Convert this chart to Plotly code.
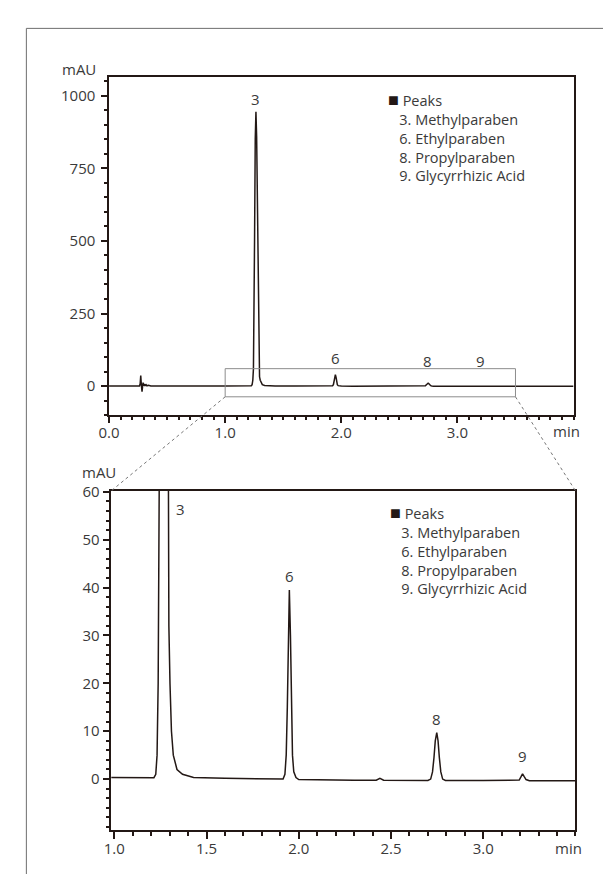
import plotly.graph_objects as go

W, H = 611, 874

# ---- data ----
time_min = [0.00, 0.25, 0.262, 0.268, 0.273, 0.278, 0.284, 0.289, 0.293, 0.298, 0.303, 0.31, 0.318,
            0.326, 0.34, 0.36, 0.40, 0.60, 1.00, 1.10, 1.20, 1.215, 1.225, 1.232, 1.238, 1.2435,
            1.248, 1.253, 1.259, 1.265, 1.271, 1.278, 1.284, 1.289, 1.293, 1.296, 1.302, 1.31,
            1.32, 1.34, 1.37, 1.43, 1.60, 1.80, 1.90, 1.915, 1.925, 1.932, 1.938, 1.943, 1.949,
            1.955, 1.96, 1.966, 1.973, 1.985, 2.00, 2.10, 2.30, 2.42, 2.44, 2.46, 2.70, 2.715,
            2.725, 2.733, 2.74, 2.748, 2.755, 2.762, 2.77, 2.78, 2.795, 3.00, 3.18, 3.195, 3.205,
            3.213, 3.222, 3.232, 3.25, 3.50, 4.00]
signal_mau = [0, 0, 0.5, 8, 36, 4, -19, 0, 12, 1, 7, 2, 5,
              1, 3, 0.5, 0.3, 0.35, 0.35, 0.3, 0.2, 0.3, 1, 5, 20, 60,
              200, 500, 850, 945, 860, 560, 280, 120, 60, 32, 20, 10,
              5, 2, 1, 0.35, 0.15, 0.05, -0.1, 0, 1, 5, 15, 30, 39.5,
              30, 15, 5, 1.5, 0.3, -0.1, -0.2, -0.25, -0.25, 0.15, -0.25, -0.3, 0,
              1.5, 4.5, 8, 9.7, 8, 4.5, 1.5, 0, -0.3, -0.3, -0.35, -0.2, 0.5,
              1.1, 0.5, -0.1, -0.35, -0.35, -0.35]

peak_ids = ["3", "6", "8", "9"]
peak_names = ["Methylparaben", "Ethylparaben", "Propylparaben", "Glycyrrhizic Acid"]
top_label_x = [1.265, 1.95, 2.74, 3.20]
top_label_y = [990, 96, 88, 88]
bot_label_x = [1.36, 1.949, 2.745, 3.213]
bot_label_y = [56.3, 42.5, 12.6, 4.8]

top_xticks = [0.0, 1.0, 2.0, 3.0]
top_yticks = [0, 250, 500, 750, 1000]
bot_xticks = [1.0, 1.5, 2.0, 2.5, 3.0]
bot_yticks = [0, 10, 20, 30, 40, 50, 60]

zoom_box_x = [1.0, 3.5]
zoom_box_y = [-37, 60]

top_xrange = [0.0, 4.0]
top_yrange = [-100, 1066]
bot_xrange = [0.984, 3.5]
bot_yrange = [-10.7, 60.2]

# ---- layout helpers (pixel -> paper) ----
def px(x):
    return x / W

def py(y):
    return (H - y) / H

top_dom_x = [px(91.7), px(564.7)]
top_dom_y = [py(401.7), py(59.3)]
bot_dom_x = [px(94.0), px(566.7)]
bot_dom_y = [py(821.7), py(478.3)]

INK = "#231815"
TXT = "#3a3a3a"
FONT = "Open Sans"

fig = go.Figure()
fig.add_trace(go.Scatter(x=time_min, y=signal_mau, mode="lines",
                         line=dict(color=INK, width=1.5), xaxis="x", yaxis="y",
                         hoverinfo="skip", showlegend=False))
fig.add_trace(go.Scatter(x=time_min, y=signal_mau, mode="lines",
                         line=dict(color=INK, width=1.5), xaxis="x2", yaxis="y2",
                         hoverinfo="skip", showlegend=False))

axis_common = dict(showgrid=False, zeroline=False, showline=True, linecolor=INK, linewidth=1.5,
                   mirror=True, ticks="outside", tickcolor=INK, tickwidth=1.5,
                   tickfont=dict(family=FONT, size=15, color=TXT))

fig.update_layout(
    width=W, height=H, margin=dict(l=0, r=0, t=0, b=0),
    paper_bgcolor="white", plot_bgcolor="white",
    font=dict(family=FONT, size=15, color=TXT),
    xaxis=dict(domain=top_dom_x, anchor="y", range=top_xrange, tickmode="array",
               tickvals=top_xticks, ticktext=[f"{v:.1f}" for v in top_xticks], ticklen=6,
               ticklabelstandoff=-3,
               minor=dict(dtick=0.1, tick0=0, ticklen=3, tickcolor=INK, tickwidth=1.5, ticks="outside"),
               **axis_common),
    yaxis=dict(domain=top_dom_y, anchor="x", range=top_yrange, tickmode="array",
               tickvals=top_yticks, ticklen=6, ticklabelstandoff=3,
               minor=dict(dtick=50, tick0=0, ticklen=3, tickcolor=INK, tickwidth=1.5, ticks="outside"),
               **axis_common),
    xaxis2=dict(domain=bot_dom_x, anchor="y2", range=bot_xrange, tickmode="array",
                tickvals=bot_xticks, ticktext=[f"{v:.1f}" for v in bot_xticks], ticklen=7,
                ticklabelstandoff=-3,
                minor=dict(dtick=0.1, tick0=0, ticklen=4, tickcolor=INK, tickwidth=1.5, ticks="outside"),
                **axis_common),
    yaxis2=dict(domain=bot_dom_y, anchor="x2", range=bot_yrange, tickmode="array",
                tickvals=bot_yticks, ticklen=7,
                minor=dict(dtick=2, tick0=0, ticklen=4, tickcolor=INK, tickwidth=1.5, ticks="outside"),
                **axis_common),
)

ann = []
# peak labels
for pid, x, y in zip(peak_ids, top_label_x, top_label_y):
    ann.append(dict(x=x, y=y, xref="x", yref="y", text=pid, showarrow=False,
                    xanchor="center", yanchor="middle"))
for pid, x, y in zip(peak_ids, bot_label_x, bot_label_y):
    ann.append(dict(x=x, y=y, xref="x2", yref="y2", text=pid, showarrow=False,
                    xanchor="center", yanchor="middle"))

# axis unit labels
ann.append(dict(x=px(80), y=py(52), xref="paper", yref="paper", text="mAU", showarrow=False,
                xanchor="right", yanchor="middle"))
ann.append(dict(x=px(101), y=py(459), xref="paper", yref="paper", text="mAU", showarrow=False,
                xanchor="right", yanchor="middle"))
ann.append(dict(x=px(573), y=py(418), xref="paper", yref="paper", text="min", showarrow=False,
                xanchor="right", yanchor="middle"))
ann.append(dict(x=px(575), y=py(840), xref="paper", yref="paper", text="min", showarrow=False,
                xanchor="right", yanchor="middle"))

# legends (single text block each)
NB = "&nbsp;"
legend_text = ("<span style='font-size:18px;color:#231815'>■</span> Peaks<br>" +
               "<br>".join(f"{NB * 3}{pid}. {name}" for pid, name in zip(peak_ids, peak_names)))

def legend(top_y, left_x):
    return dict(x=px(left_x), y=py(top_y), xref="paper", yref="paper", text=legend_text,
                showarrow=False, xanchor="left", yanchor="top", align="left",
                font=dict(size=14.5, color=TXT))

ann.append(legend(68, 374))
ann.append(legend(486, 376))
fig.update_layout(annotations=ann)

# zoom box and connectors (positions derived from axis domains and ranges)
def to_paper(v, rng, dom):
    return dom[0] + (v - rng[0]) / (rng[1] - rng[0]) * (dom[1] - dom[0])

bx0 = to_paper(zoom_box_x[0], top_xrange, top_dom_x)
bx1 = to_paper(zoom_box_x[1], top_xrange, top_dom_x)
by0 = to_paper(zoom_box_y[0], top_yrange, top_dom_y)

shapes = [
    dict(type="rect", xref="x", yref="y", x0=zoom_box_x[0], x1=zoom_box_x[1],
         y0=zoom_box_y[0], y1=zoom_box_y[1], line=dict(color="#8c8c8c", width=1)),
    dict(type="line", xref="paper", yref="paper", x0=bx0, y0=by0, x1=bot_dom_x[0], y1=bot_dom_y[1],
         line=dict(color="#777777", width=1, dash="dot")),
    dict(type="line", xref="paper", yref="paper", x0=bx1, y0=by0, x1=bot_dom_x[1], y1=bot_dom_y[1],
         line=dict(color="#777777", width=1, dash="dot")),
    dict(type="rect", xref="paper", yref="paper", x0=px(7.5), x1=1.2, y0=-0.2, y1=py(10.5),
         line=dict(color="#6e6e6e", width=1), layer="below"),
]
fig.update_layout(shapes=shapes)

fig.write_html("out.html")
